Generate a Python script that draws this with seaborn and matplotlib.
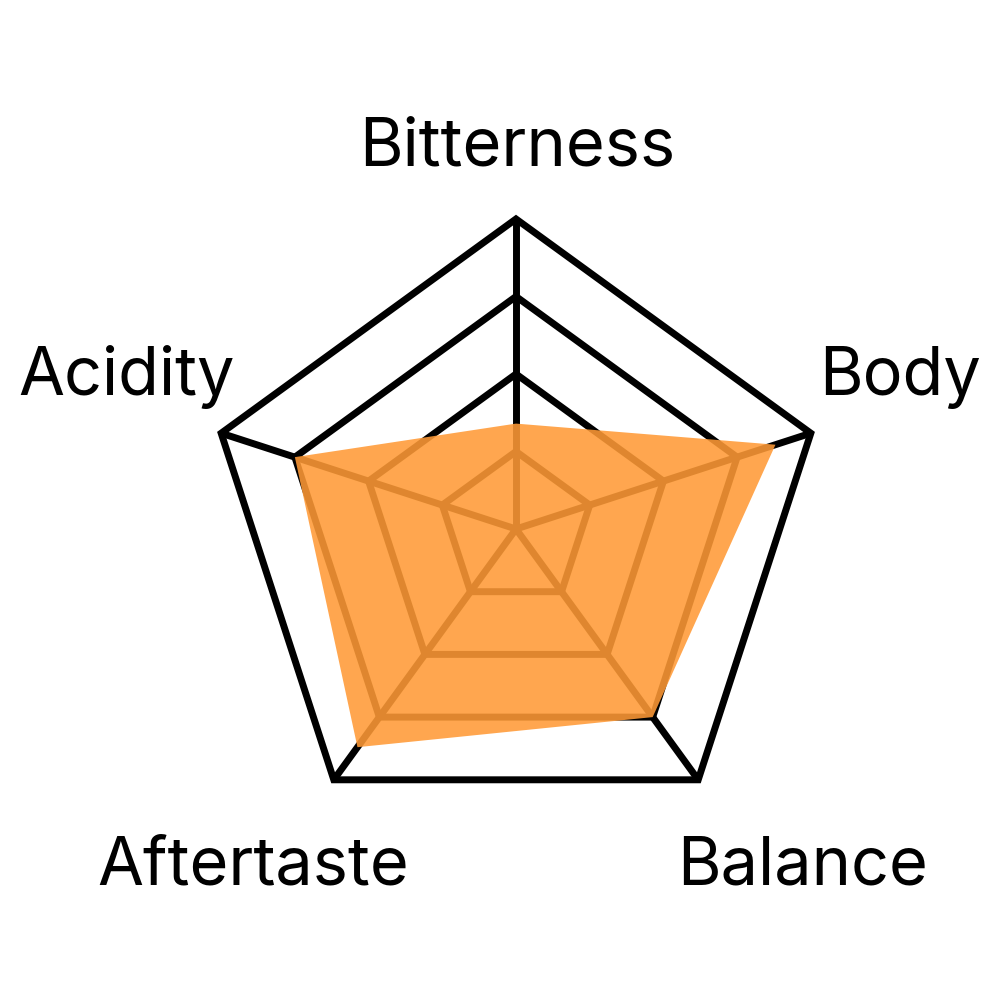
import numpy as np
import matplotlib
matplotlib.use('Agg')
import matplotlib.pyplot as plt
from matplotlib.patches import Polygon
import seaborn as sns

# data
categories = ['Bitterness', 'Body', 'Balance', 'Aftertaste', 'Acidity']
scores = [3.4, 8.8, 7.5, 8.7, 7.5]
max_score = 10
ring_levels = [2.5, 5, 7.5, 10]

sns.set_theme(style='white')
plt.rcParams['font.family'] = ['Inter', 'DejaVu Sans']

fill_color = (1.0, 0.604, 0.212)

# angles, starting at the top and going clockwise
angles = np.pi / 2 - np.arange(len(categories)) * 2 * np.pi / len(categories)

fig = plt.figure(figsize=(10, 10), dpi=100)
ax = fig.add_axes([0, 0, 1, 1])
ax.set_xlim(-516 / 310, 484 / 310)
ax.set_ylim(-471 / 310, 529 / 310)
ax.set_aspect('equal')
ax.axis('off')

# grid rings
for lvl in ring_levels:
    r = lvl / max_score
    pts = np.column_stack([r * np.cos(angles), r * np.sin(angles)])
    ax.add_patch(Polygon(pts, closed=True, fill=False, edgecolor='black',
                         linewidth=5, joinstyle='miter', zorder=1))

# spokes
for a in angles:
    ax.plot([0, np.cos(a)], [0, np.sin(a)], color='black', linewidth=5,
            solid_capstyle='butt', zorder=1)

# data polygon
vals = np.array(scores) / max_score
data_pts = np.column_stack([vals * np.cos(angles), vals * np.sin(angles)])
ax.add_patch(Polygon(data_pts, closed=True, facecolor=fill_color,
                     edgecolor='none', alpha=0.88, zorder=2))

# axis labels (anchor = centre / baseline)
label_pos = {
    'Bitterness': (0.005, 1.174),
    'Body': (1.239, 0.432),
    'Balance': (0.923, -1.148),
    'Aftertaste': (-0.848, -1.148),
    'Acidity': (-1.255, 0.432),
}
for name in categories:
    x, y = label_pos[name]
    ax.text(x, y, name, ha='center', va='baseline', fontsize=48, color='black')

fig.savefig('out.png', dpi=100)
